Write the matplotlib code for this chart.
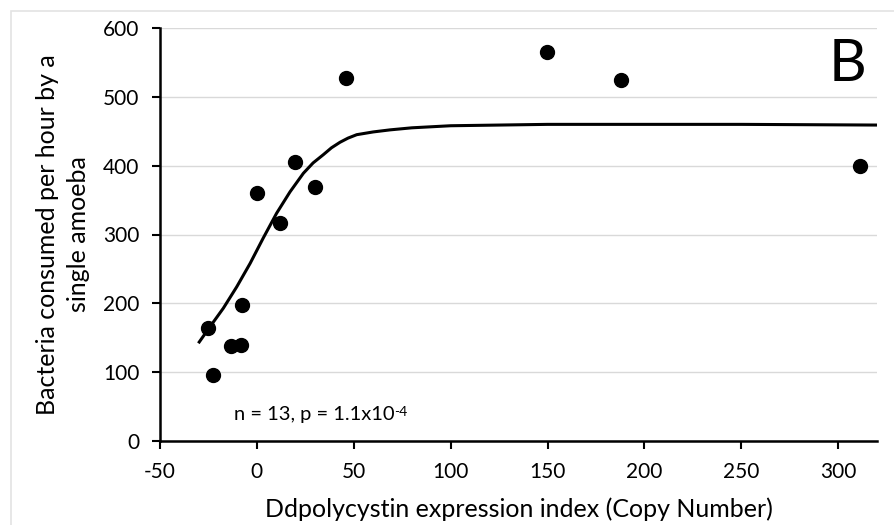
import matplotlib
matplotlib.use("Agg")
import matplotlib.pyplot as plt
from matplotlib.patches import Rectangle

# data
expr_index = [-25, -22.5, -13.4, -8.1, -7.5, 0, 11.7, 19.9, 30, 45.9, 149.5, 188, 311]
bacteria = [164, 96, 138, 139, 197, 361, 316, 406, 369, 528, 565, 525, 399]

# fitted curve, points
fit_x = [-30.2, -24.2, -17.3, -10.4, -3.5, 3.3, 10.2, 17.1, 24.0, 29, 34.3, 38.5, 42.9, 47,
         51.5, 60, 68.7, 80, 100, 150, 200, 250, 320]
fit_y = [142, 166, 193, 224, 258, 295, 331, 362, 389, 404, 416, 426, 434, 440,
         445, 449, 452, 455, 458, 460, 460, 460, 459]

x_ticks = [-50, 0, 50, 100, 150, 200, 250, 300]
y_ticks = [0, 100, 200, 300, 400, 500, 600]

plt.rcParams["font.family"] = ["Lato", "DejaVu Sans"]
plt.rcParams["axes.unicode_minus"] = False

fig = plt.figure(figsize=(8.95, 5.25), dpi=100)
ax = fig.add_axes([160 / 895, 1 - 441 / 525, (877 - 160) / 895, (441 - 28) / 525])

# light frame around the figure
fig.patches.append(Rectangle((11 / 895, -0.1), 1.2, 1 - 11 / 525 + 0.1,
                             transform=fig.transFigure, fill=False,
                             edgecolor="#e3e3e3", linewidth=1.2, zorder=0))

ax.grid(axis="y", color="#d9d9d9", linewidth=1)
ax.set_axisbelow(True)
ax.plot(fit_x, fit_y, color="black", linewidth=2.2, solid_capstyle="butt",
        solid_joinstyle="round", zorder=2)
ax.scatter(expr_index, bacteria, s=100, color="black", zorder=3)

ax.set_xlim(-50, 320)
ax.set_ylim(0, 600)
ax.set_xticks(x_ticks)
ax.set_yticks(y_ticks)
ax.tick_params(axis="both", direction="out", length=6, width=1.5, labelsize=15)
ax.tick_params(axis="y", pad=9)
ax.tick_params(axis="x", pad=9)
for s in ["top", "right"]:
    ax.spines[s].set_visible(False)
for s in ["left", "bottom"]:
    ax.spines[s].set_linewidth(1.8)

ax.set_xlabel("Ddpolycystin expression index (Copy Number)", fontsize=18, labelpad=11)
ax.set_ylabel("Bacteria consumed per hour by a\nsingle amoeba", fontsize=18, labelpad=9,
              linespacing=1.45)

# annotation with a hand-made superscript so the hyphen stays a hyphen
t = ax.text(-12, 30, "n = 13, p = 1.1x10", fontsize=14.5, va="baseline")
ax.annotate("-4", xy=(1.0, 1.0), xycoords=t, fontsize=10, va="top", ha="left")
ax.text(0.985, 0.975, "B", transform=ax.transAxes, fontsize=42, ha="right", va="top")

fig.savefig("out.png", dpi=100)
